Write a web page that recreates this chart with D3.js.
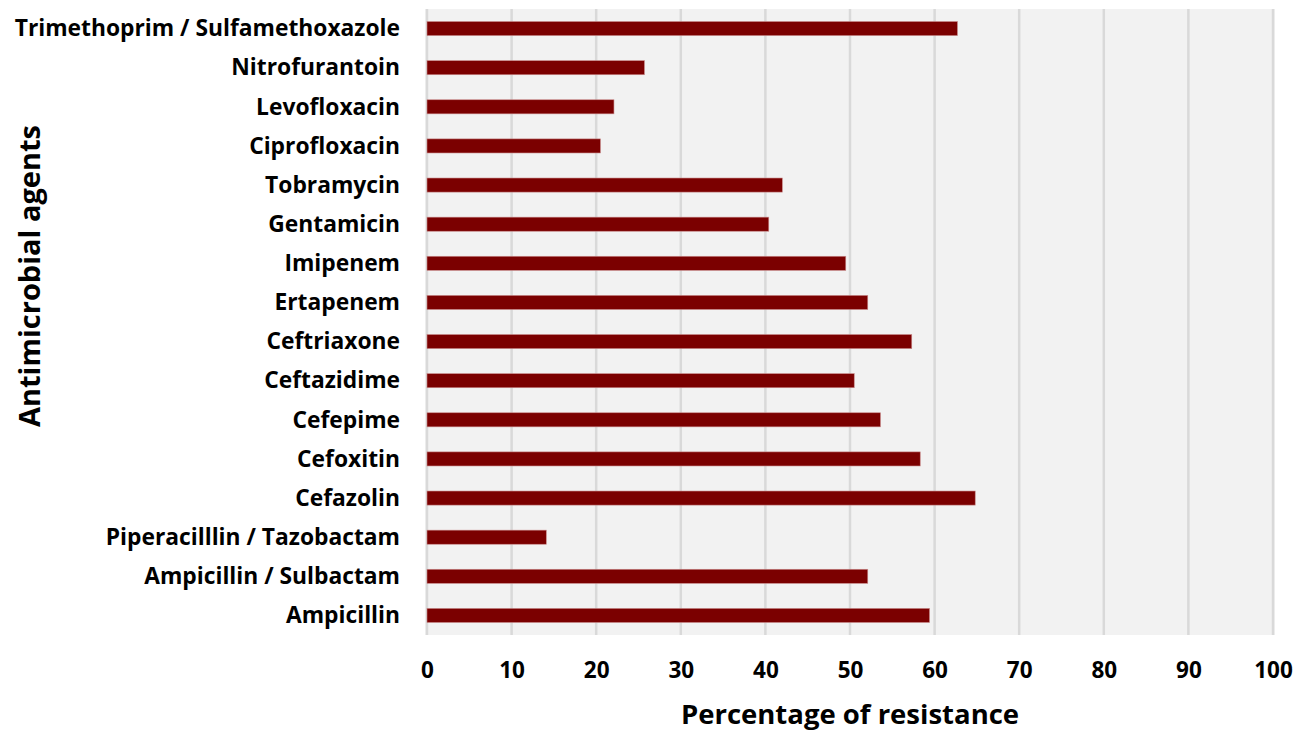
<!DOCTYPE html>
<html>
<head>
<meta charset="utf-8">
<script src="https://cdn.jsdelivr.net/npm/d3@7"></script>
<style>
  html, body { margin: 0; padding: 0; background: #ffffff; }
  svg { display: block; }
  text { font-family: "Open Sans", Lato, sans-serif; font-weight: 700; fill: #000; }
</style>
</head>
<body>
<svg id="chart" width="1306" height="734"></svg>
<script>
// Antimicrobial agents, listed top to bottom
const agents = [
  "Trimethoprim / Sulfamethoxazole",
  "Nitrofurantoin",
  "Levofloxacin",
  "Ciprofloxacin",
  "Tobramycin",
  "Gentamicin",
  "Imipenem",
  "Ertapenem",
  "Ceftriaxone",
  "Ceftazidime",
  "Cefepime",
  "Cefoxitin",
  "Cefazolin",
  "Piperacilllin / Tazobactam",
  "Ampicillin / Sulbactam",
  "Ampicillin"
];

// Percentage of resistant isolates for each agent
const resistance = [62.7, 25.7, 22.1, 20.5, 42.0, 40.4, 49.5, 52.1, 57.3, 50.5, 53.6, 58.3, 64.8, 14.1, 52.1, 59.4];

const xTicks = [0, 10, 20, 30, 40, 50, 60, 70, 80, 90, 100];

const xTitle = "Percentage of resistance";
const yTitle = "Antimicrobial agents";

const svg = d3.select("#chart");
const plot = { left: 427, right: 1273, top: 9, bottom: 635 };

const x = d3.scaleLinear().domain([0, 100]).range([plot.left, plot.right]);
const y = d3.scaleBand().domain(agents).range([plot.top, plot.bottom]).paddingInner(0.64).paddingOuter(0.32);

const rows = agents.map((a, i) => ({ agent: a, value: resistance[i] }));

// plot background
svg.append("rect")
  .attr("x", plot.left - 2).attr("y", plot.top)
  .attr("width", plot.right - plot.left + 4).attr("height", plot.bottom - plot.top)
  .attr("fill", "#f2f2f2");

// vertical gridlines
svg.append("g").selectAll("line").data(xTicks).join("line")
  .attr("x1", d => x(d)).attr("x2", d => x(d))
  .attr("y1", plot.top).attr("y2", plot.bottom)
  .attr("stroke", "#d9d9d9").attr("stroke-width", 2.5);

// bars
svg.append("g").selectAll("rect").data(rows).join("rect")
  .attr("x", x(0))
  .attr("y", d => y(d.agent))
  .attr("width", d => x(d.value) - x(0))
  .attr("height", y.bandwidth())
  .attr("fill", "#7b0000")
  .attr("stroke", "#c98a8a").attr("stroke-width", 0.6);

// x axis tick labels
const xAxis = d3.axisBottom(x).tickValues(xTicks).tickSize(0).tickPadding(0);
const gx = svg.append("g").attr("transform", `translate(0, ${plot.bottom + 26})`).call(xAxis);
gx.select(".domain").remove();
gx.selectAll("text")
  .attr("dy", "0.32em").attr("y", 10)
  .style("font-family", "'Open Sans', Lato, sans-serif")
  .style("font-weight", 700).style("font-size", "22.5px").attr("fill", "#000");

// y axis category labels
const yAxis = d3.axisLeft(y).tickSize(0).tickPadding(0);
const gy = svg.append("g").attr("transform", `translate(${plot.left - 27}, 0)`).call(yAxis);
gy.select(".domain").remove();
gy.selectAll("text")
  .attr("dy", "0.34em")
  .style("font-family", "'Open Sans', Lato, sans-serif")
  .style("font-weight", 700).style("font-size", "22.8px").attr("fill", "#000");

// axis titles
svg.append("text")
  .attr("x", (plot.left + plot.right) / 2).attr("y", 714)
  .attr("dy", "0.35em").attr("text-anchor", "middle")
  .style("font-size", "27.5px")
  .text(xTitle);

svg.append("text")
  .attr("transform", "translate(30, 276) rotate(-90)")
  .attr("dy", "0.35em").attr("text-anchor", "middle")
  .style("font-size", "29px")
  .text(yTitle);
</script>
</body>
</html>
